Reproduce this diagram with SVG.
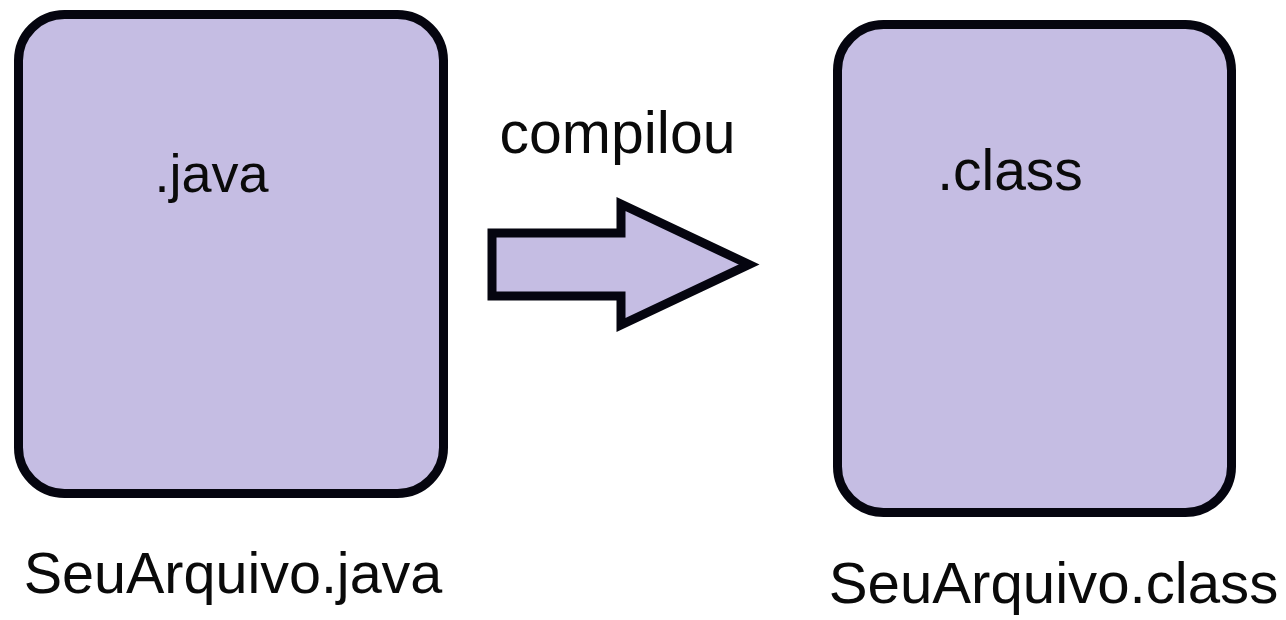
<svg xmlns="http://www.w3.org/2000/svg" width="1286" height="620" viewBox="0 0 1286 620">
<style>
.box{fill:#c5bde3;stroke:#05050f;stroke-width:9}
.t{font-family:"Liberation Sans",Arial,sans-serif;fill:#0a0a0a;text-anchor:middle}
</style>
<rect width="1286" height="620" fill="#ffffff"/>
<g id="java">
<rect class="box" x="18.5" y="14.5" width="425" height="479" rx="46" ry="46"/>
<text class="t" x="211.5" y="192" font-size="54">.java</text>
</g>
<g id="class">
<rect class="box" x="837.5" y="24.5" width="394" height="488" rx="46" ry="46"/>
<text class="t" x="1010" y="190" font-size="57">.class</text>
</g>
<g id="connectors">
<path class="box" stroke-width="8" stroke-linejoin="miter" d="M492,233 L621,233 L621,204 L749,264.5 L621,325 L621,296 L492,296 Z"/>
<text class="t" x="617.5" y="153" font-size="59">compilou</text>
</g>
<g id="labels">
<text class="t" x="233" y="593" font-size="57.5">SeuArquivo.java</text>
<text class="t" x="1053.5" y="603" font-size="58.2">SeuArquivo.class</text>
</g>
</svg>
